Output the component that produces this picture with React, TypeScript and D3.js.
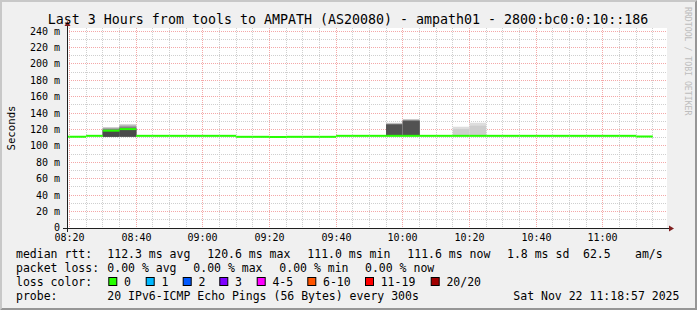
import React from "react";
import * as d3 from "d3";

const titleText = "Last 3 Hours from tools to AMPATH (AS20080) - ampath01 - 2800:bc0:0:10::186";
const yAxisLabel = "Seconds";
const watermark = "RRDTOOL / TOBI OETIKER";

// 5-minute steps (start times) and the median rtt (ms) of each step
const stepStarts = [
  "08:15", "08:20", "08:25", "08:30", "08:35", "08:40", "08:45", "08:50", "08:55", "09:00",
  "09:05", "09:10", "09:15", "09:20", "09:25", "09:30", "09:35", "09:40", "09:45", "09:50",
  "09:55", "10:00", "10:05", "10:10", "10:15", "10:20", "10:25", "10:30", "10:35", "10:40",
  "10:45", "10:50", "10:55", "11:00", "11:05", "11:10",
];
const medianRtt = [
  111.3, 111.3, 112.4, 118.7, 120.6, 112.4, 112.4, 112.4, 112.4, 112.4,
  112.4, 111.2, 111.2, 111.0, 111.2, 111.2, 111.2, 112.4, 112.4, 112.4,
  112.4, 112.4, 112.4, 112.4, 112.4, 112.4, 112.4, 112.4, 112.4, 112.4,
  112.4, 112.4, 112.4, 112.4, 112.4, 111.6,
];

// steps with visible smoke, and their 20 sorted ping times (ms)
const smokeSteps = ["08:30", "08:35", "09:55", "10:00", "10:15", "10:20"];
const smokePings = [
  [111.2, 111.2, 111.3, 111.3, 111.3, 111.4, 111.4, 111.5, 111.5, 111.6, 118.7, 119.2, 119.7, 120.2, 120.7, 121.2, 121.7, 122.2, 122.7, 123.2],
  [111.2, 111.3, 111.3, 111.4, 111.4, 111.5, 111.5, 111.6, 111.7, 111.8, 120.6, 121.2, 121.9, 122.6, 123.3, 124.0, 124.7, 125.4, 126.1, 126.8],
  [112.0, 112.1, 112.1, 112.2, 112.2, 112.3, 112.3, 112.3, 112.4, 112.4, 112.4, 126.0, 126.2, 126.4, 126.6, 126.8, 127.1, 127.5, 127.9, 128.4],
  [112.0, 112.1, 112.1, 112.2, 112.2, 112.3, 112.3, 112.3, 112.4, 112.4, 112.4, 130.3, 130.6, 130.9, 131.2, 131.5, 131.8, 132.1, 132.5, 132.9],
  [112.2, 112.2, 112.3, 112.3, 112.3, 112.3, 112.4, 112.4, 112.4, 112.4, 112.4, 112.4, 112.4, 112.5, 112.5, 112.5, 112.6, 112.7, 120.8, 123.5],
  [112.2, 112.2, 112.3, 112.3, 112.3, 112.3, 112.4, 112.4, 112.4, 112.4, 112.4, 112.4, 112.4, 112.5, 112.5, 112.5, 112.6, 113.0, 124.7, 128.4],
];

const yMajorTicks = [0, 20, 40, 60, 80, 100, 120, 140, 160, 180, 200, 220, 240];
const yMinorTicks = [10, 30, 50, 70, 90, 110, 130, 150, 170, 190, 210, 230];
const yTickLabels = ["0", "20 m", "40 m", "60 m", "80 m", "100 m", "120 m", "140 m", "160 m", "180 m", "200 m", "220 m", "240 m"];

const lossLabels = ["0", "1", "2", "3", "4-5", "6-10", "11-19", "20/20"];
const lossColors = ["#26ff00", "#00b8ff", "#0059ff", "#7e00ff", "#ff00ff", "#ff5500", "#ff0000", "#a10000"];

const rttLegend = ["median rtt:", "112.3 ms avg", "120.6 ms max", "111.0 ms min", "111.6 ms now", "1.8 ms sd", "62.5", "am/s"];
const lossLegend = ["packet loss:", "0.00 % avg", "0.00 % max", "0.00 % min", "0.00 % now"];
const colorLegend = "loss color:";
const probeLegend = ["probe:", "20 IPv6-ICMP Echo Pings (56 Bytes) every 300s", "Sat Nov 22 11:18:57 2025"];

// smoke shades, outermost band first
const smokeGrays = ["#dddddd", "#cdcdcd", "#bdbdbd", "#adadad", "#9d9d9d", "#8d8d8d", "#7d7d7d", "#6d6d6d", "#525252", "#4a4a4a"];

const toDate = (hm: string, s = 0) => {
  const [h, m] = hm.split(":").map(Number);
  return new Date(Date.UTC(2025, 10, 22, h, m, s));
};

const FONT = "'DejaVu Sans Mono', monospace";

export default function App() {
  const X0 = 67, X1 = 667, Y0 = 228, Y1 = 28;
  const x = d3.scaleUtc().domain([toDate("08:19", 15), toDate("11:19", 15)]).range([X0, X1]);
  const y = d3.scaleLinear().domain([0, 243.9]).range([Y0, Y1]);
  const swidth = 243.9 / 200;
  const px = (v: number) => Math.floor(v) + 0.5;

  const allMinutes = x.ticks(d3.utcMinute.every(5)!);
  const majorTimes = allMinutes.filter((d) => d.getUTCMinutes() % 20 === 0);
  const minorTimes = allMinutes.filter((d) => d.getUTCMinutes() % 20 !== 0);
  const fmt = d3.utcFormat("%H:%M");

  const clipX = (v: number) => Math.max(X0, Math.min(X1, v));

  const rttX = [16, 107.3, 207.3, 307.3, 407.3, 507, 583, 635];
  const lossX = [16, 107.3, 193.3, 279.3, 365];
  const boxX = [108.3, 145.7, 182.7, 219.3, 256.7, 307.3, 365, 430.7];
  const probeX = [16, 107.3, 513.3];
  const lineY = [258.3, 272.2, 286.1, 300];

  return (
    <svg width={697} height={310} style={{ position: "absolute", left: 0, top: 0 }} fontFamily={FONT}>
      <rect x={0} y={0} width={697} height={310} fill="#f0f0f0" />
      <polygon points="0,310 2,308 2,2 695,2 697,0 0,0" fill="#c8c8c8" />
      <polygon points="2,308 695,308 695,2 697,0 697,310 0,310" fill="#969696" />
      <rect x={X0} y={Y1} width={X1 - X0} height={Y0 - Y1} fill="#ffffff" />

      {/* grid */}
      {minorTimes.map((d, i) => (
        <line key={"vm" + i} x1={px(x(d))} x2={px(x(d))} y1={Y1} y2={Y0} stroke="#cfcfcf" strokeDasharray="1,1" />
      ))}
      {yMinorTicks.map((v, i) => (
        <line key={"hm" + i} x1={X0} x2={X1} y1={px(y(v))} y2={px(y(v))} stroke="#cfcfcf" strokeDasharray="1,1" />
      ))}
      {majorTimes.map((d, i) => (
        <line key={"vM" + i} x1={px(x(d))} x2={px(x(d))} y1={Y1} y2={Y0} stroke="#f4a8a8" strokeDasharray="1,1" />
      ))}
      {yMajorTicks.map((v, i) => (
        <line key={"hM" + i} x1={X0} x2={X1} y1={px(y(v))} y2={px(y(v))} stroke="#f4a8a8" strokeDasharray="1,1" />
      ))}

      {/* smoke */}
      {smokeSteps.map((s, k) => {
        const xa = clipX(x(toDate(s)));
        const xb = clipX(x(d3.utcMinute.offset(toDate(s), 5)));
        const p = smokePings[k];
        return smokeGrays.map((c, i) => {
          const lo = p[i], hi = p[p.length - 1 - i];
          return (
            <rect key={"s" + k + "_" + i} x={xa} width={xb - xa} y={y(hi)} height={Math.max(0, y(lo) - y(hi))} fill={c} />
          );
        });
      })}

      {/* median */}
      {stepStarts.map((s, i) => {
        const xa = clipX(x(toDate(s)));
        const xb = clipX(x(d3.utcMinute.offset(toDate(s), 5)));
        if (xb <= xa) return null;
        const m = medianRtt[i];
        return (
          <rect key={"m" + i} x={xa} width={xb - xa} y={y(m + swidth)} height={y(m - swidth) - y(m + swidth)} fill={lossColors[0]} />
        );
      })}

      {/* axes */}
      <line x1={X0 - 4} x2={X1 + 4} y1={Y0 + 0.5} y2={Y0 + 0.5} stroke="#1f1f1f" strokeWidth={1} />
      <line x1={X0 + 0.5} x2={X0 + 0.5} y1={Y0 + 4} y2={Y1 - 4} stroke="#1f1f1f" strokeWidth={1} />
      <polygon points={`${X1 + 2},${Y0 - 2.5} ${X1 + 2},${Y0 + 3.5} ${X1 + 7},${Y0 + 0.5}`} fill="#7f1f1f" />
      <polygon points={`${X0 - 2.5},${Y1 - 2} ${X0 + 3.5},${Y1 - 2} ${X0 + 0.5},${Y1 - 7}`} fill="#7f1f1f" />

      {/* y tick labels */}
      {yMajorTicks.map((v, i) => (
        <text key={"yl" + i} x={60} y={y(v) + 3.4} textAnchor="end" fontSize={10} fill="#000">
          {yTickLabels[i]}
        </text>
      ))}
      {/* x tick labels */}
      {majorTimes.map((d, i) => (
        <text key={"xl" + i} x={px(x(d))} y={241} textAnchor="middle" fontSize={10} fill="#000">
          {fmt(d)}
        </text>
      ))}

      <text transform="translate(14.5,128) rotate(-90)" textAnchor="middle" fontSize={10.7} fill="#000">
        {yAxisLabel}
      </text>
      <text x={348} y={24} textAnchor="middle" fontSize={13.3} fill="#000">
        {titleText}
      </text>
      <text transform="translate(685,7) rotate(90)" fontSize={8.2} fill="#bdbdbd">
        {watermark}
      </text>

      {/* legend */}
      {rttLegend.map((t, i) => (
        <text key={"r" + i} x={rttX[i]} y={lineY[0]} fontSize={11.5}>{t}</text>
      ))}
      {lossLegend.map((t, i) => (
        <text key={"l" + i} x={lossX[i]} y={lineY[1]} fontSize={11.5}>{t}</text>
      ))}
      <text x={16} y={lineY[2]} fontSize={11.5}>{colorLegend}</text>
      {lossLabels.map((t, i) => (
        <g key={"c" + i}>
          <rect x={boxX[i] + 0.5} y={277.5} width={8} height={8} fill={lossColors[i]} stroke="#000" strokeWidth={1} />
          <text x={boxX[i] + 15.7} y={lineY[2]} fontSize={11.5}>{t}</text>
        </g>
      ))}
      {probeLegend.map((t, i) => (
        <text key={"p" + i} x={probeX[i]} y={lineY[3]} fontSize={11.5}>{t}</text>
      ))}
    </svg>
  );
}
